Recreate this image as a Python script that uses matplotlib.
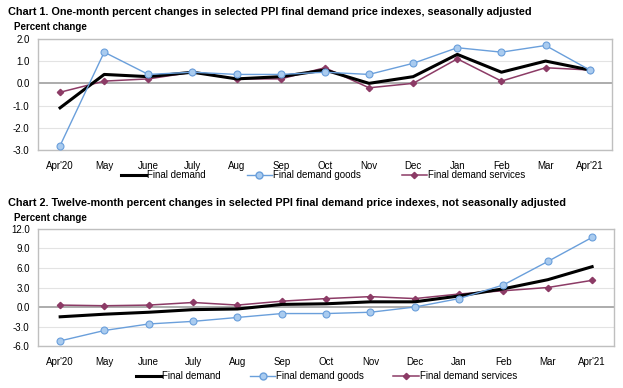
import numpy as np
import matplotlib.pyplot as plt
from matplotlib.lines import Line2D

# =========================
# DATA
# =========================

months = ["Apr'20", "May", "June", "July", "Aug", "Sep", "Oct", "Nov", "Dec",
          "Jan", "Feb", "Mar", "Apr'21"]

# Chart 1: one-month changes, seasonally adjusted
fd_1m = [-1.1, 0.4, 0.3, 0.5, 0.2, 0.3, 0.6, 0.0, 0.3, 1.3, 0.5, 1.0, 0.6]
goods_1m = [-2.8, 1.4, 0.4, 0.5, 0.4, 0.4, 0.5, 0.4, 0.9, 1.6, 1.4, 1.7, 0.6]
serv_1m = [-0.4, 0.1, 0.2, 0.5, 0.2, 0.2, 0.7, -0.2, 0.0, 1.1, 0.1, 0.7, 0.6]

# Chart 2: twelve-month changes, not seasonally adjusted
fd_12m = [-1.5, -1.1, -0.8, -0.4, -0.3, 0.4, 0.5, 0.8, 0.8, 1.7, 2.8, 4.2, 6.2]
goods_12m = [-5.2, -3.6, -2.6, -2.2, -1.6, -1.0, -1.0, -0.8, 0.0, 1.3, 3.4, 7.0, 10.7]
serv_12m = [0.3, 0.2, 0.3, 0.7, 0.3, 0.9, 1.3, 1.6, 1.3, 2.0, 2.5, 3.0, 4.1]

# =========================
# STYLE
# =========================

plt.rcParams["font.family"] = ["Liberation Sans", "DejaVu Sans"]

BLACK = "#000000"
GOODS_LINE = "#6A9FDB"
GOODS_FILL = "#A9CBEF"
SERV = "#8C3B66"
GRID = "#E3E3E3"
FRAME = "#BFBFBF"
FS = 7


def draw_panel(fig, rect, title, fd, goods, serv, ylim, yticks, title_y, label_y,
               legend_x, legend_y, col_space):
    ax = fig.add_axes(rect)
    x = np.arange(len(months))

    for t in yticks:
        if t != 0:
            ax.axhline(t, color=GRID, linewidth=0.8, zorder=0)
    ax.axhline(0, color="#A6A6A6", linewidth=1.3, zorder=1)

    ax.plot(x, serv, color=SERV, linewidth=1.1, marker="D", markersize=3.2,
            markerfacecolor=SERV, markeredgecolor=SERV, zorder=3)
    ax.plot(x, fd, color=BLACK, linewidth=2.2, zorder=4)
    ax.plot(x, goods, color=GOODS_LINE, linewidth=1.0, marker="o", markersize=5,
            markerfacecolor=GOODS_FILL, markeredgecolor=GOODS_LINE,
            markeredgewidth=0.8, zorder=5)

    ax.set_xlim(-0.5, len(months) - 0.5)
    ax.set_ylim(*ylim)
    ax.set_yticks(yticks)
    ax.set_yticklabels([f"{t:.1f}" for t in yticks], fontsize=FS)
    ax.set_xticks(x)
    ax.set_xticklabels(months, fontsize=FS)
    ax.tick_params(length=0, pad=6)
    ax.tick_params(axis="x", pad=8)
    for s in ax.spines.values():
        s.set_color(FRAME)
        s.set_linewidth(1.0)

    fig.text(0.013, title_y, title, fontsize=7.8, fontweight="bold", va="center")
    fig.text(0.023, label_y, "Percent change", fontsize=FS, fontweight="bold", va="center")

    handles = [
        Line2D([], [], color=BLACK, linewidth=2.2),
        Line2D([], [], color=GOODS_LINE, linewidth=1.0, marker="o", markersize=5,
               markerfacecolor=GOODS_FILL, markeredgecolor=GOODS_LINE),
        Line2D([], [], color=SERV, linewidth=1.1, marker="D", markersize=3.2,
               markerfacecolor=SERV, markeredgecolor=SERV),
    ]
    fig.legend(handles, ["Final demand", "Final demand goods", "Final demand services"],
               loc="center", bbox_to_anchor=(legend_x, legend_y), ncol=3, frameon=False,
               fontsize=FS, handlelength=2.6, handletextpad=0.1, columnspacing=col_space,
               borderpad=0, borderaxespad=0)
    return ax


fig = plt.figure(figsize=(6.23, 3.88), dpi=100)

draw_panel(fig, [0.061, 0.613, 0.921, 0.287],
           "Chart 1. One-month percent changes in selected PPI final demand price indexes, seasonally adjusted",
           fd_1m, goods_1m, serv_1m, (-3, 2), [-3, -2, -1, 0, 1, 2],
           1 - 12 / 388, 1 - 27 / 388, 323 / 623, 1 - 175 / 388, 4.2)

draw_panel(fig, [0.061, 0.108, 0.925, 0.302],
           "Chart 2. Twelve-month percent changes in selected PPI final demand price indexes, not seasonally adjusted",
           fd_12m, goods_12m, serv_12m, (-6, 12), [-6, -3, 0, 3, 6, 9, 12],
           1 - 203 / 388, 1 - 218 / 388, 326.5 / 623, 1 - 376 / 388, 3.0)

fig.savefig("out.png", dpi=100)
